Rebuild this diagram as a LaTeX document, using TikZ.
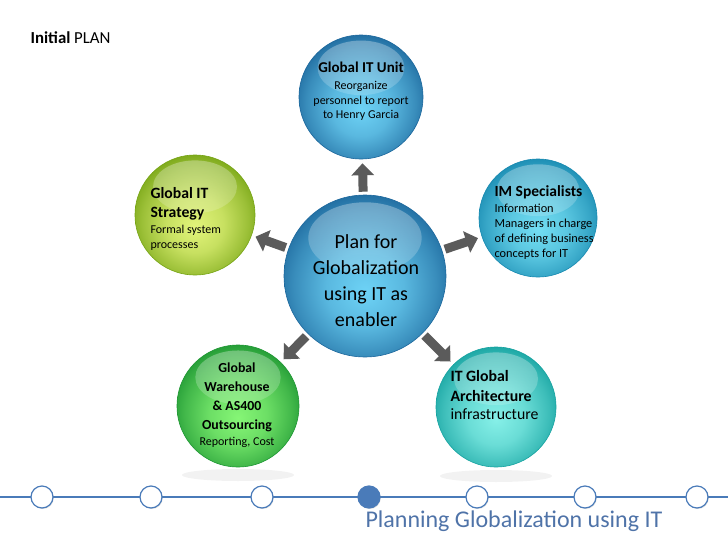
\documentclass[tikz,border=0pt]{standalone}
\usepackage{fontspec}
\setmainfont{Carlito}
\usetikzlibrary{arrows.meta,fadings,shadows}

\definecolor{blueIn}{HTML}{6ED3F6}
\definecolor{blueOut}{HTML}{1C679C}
\definecolor{limeIn}{HTML}{E2F47A}
\definecolor{limeOut}{HTML}{76A414}
\definecolor{cyanIn}{HTML}{72DDF2}
\definecolor{cyanOut}{HTML}{1789B0}
\definecolor{greenIn}{HTML}{86F676}
\definecolor{greenOut}{HTML}{1D9632}
\definecolor{tealIn}{HTML}{86F0E8}
\definecolor{tealOut}{HTML}{15A2A0}
\definecolor{lineblue}{HTML}{4A7BB9}
\definecolor{capblue}{HTML}{4F73A8}
\definecolor{arrowgray}{HTML}{5B5B5B}
\colorlet{sphIn}{white}
\colorlet{sphOut}{black}

\pgfdeclareradialshading[sphIn,sphOut]{sphereshade}{\pgfpoint{0bp}{-5bp}}{%
  color(0bp)=(sphIn); color(12bp)=(sphIn!75!sphOut);
  color(22bp)=(sphIn!35!sphOut); color(29bp)=(sphOut); color(50bp)=(sphOut)}

\tikzset{
  sphere/.style n args={3}{circle, inner sep=0pt, minimum size=#3*2pt,
    draw=#2, line width=0.6pt,
    /utils/exec={\colorlet{sphIn}{#1}\colorlet{sphOut}{#2}},
    shading=sphereshade,
    path picture={\fill[white, path fading=south, fill opacity=0.32]
      ([yshift=#3*0.47pt]path picture bounding box.center)
      ellipse [x radius=#3*0.7pt, y radius=#3*0.44pt];}},
  blockarrow/.style={draw=arrowgray, line width=9pt,
    -{Triangle[width=22pt,length=12pt]}, shorten <=3pt, shorten >=4pt},
  tdot/.style={circle, draw=lineblue, fill=white, line width=1.2pt,
    minimum size=22pt, inner sep=0pt,
    drop shadow={shadow xshift=0.8pt, shadow yshift=-1pt, opacity=0.25}},
}

\begin{document}
\begin{tikzpicture}[x=1pt,y=-1pt]
\useasboundingbox (0,0) rectangle (728,546);

\node[anchor=west, font=\fontsize{16.8}{20}\selectfont] (title) at (27,38) {\textbf{Initial} PLAN};

% faint reflections below the lower spheres
\fill[gray!10] (238,475) ellipse [x radius=56pt, y radius=6pt];
\fill[gray!10] (496,476) ellipse [x radius=56pt, y radius=6pt];

% spheres
\node[sphere={blueIn}{blueOut}{81}] (plan) at (365,276) {};
\node[sphere={blueIn}{blueOut}{62}] (unit) at (361,97) {};
\node[sphere={limeIn}{limeOut}{60}] (strat) at (195,215) {};
\node[sphere={cyanIn}{cyanOut}{59}] (spec) at (538,218) {};
\node[sphere={greenIn}{greenOut}{61}] (ware) at (238,406) {};
\node[sphere={tealIn}{tealOut}{60}] (arch) at (496,407) {};

% arrows out of the centre
\foreach \t in {unit,strat,spec,ware,arch}
  \draw[blockarrow] (plan) -- (\t);

% texts
\node[align=center, font=\fontsize{20}{26}\selectfont] (planTxt) at (366,281)
  {Plan for\\Globalization\\using IT as\\enabler};
\node[align=center, anchor=north, font=\fontsize{12}{14.5}\selectfont] (unitTxt) at (361,58)
  {{\fontsize{15}{18}\selectfont\bfseries Global IT Unit}\\[3pt]Reorganize\\personnel to report\\to Henry Garcia};
\node[align=left, anchor=north west, font=\fontsize{12}{15}\selectfont] (stratTxt) at (147,184)
  {{\fontsize{15.7}{19}\selectfont\bfseries Global IT}\\[3.5pt]{\fontsize{15.7}{19}\selectfont\bfseries Strategy}\\[1.5pt]Formal system\\processes};
\node[align=left, anchor=north west, font=\fontsize{12.3}{15.2}\selectfont] (specTxt) at (491,182)
  {{\fontsize{15.5}{17}\selectfont\bfseries IM Specialists}\\[0.5pt]Information\\Managers in charge\\of defining business\\concepts for IT};
\node[align=center, anchor=north, font=\fontsize{13.8}{19.2}\selectfont\bfseries] (wareTxt) at (237,359)
  {Global\\Warehouse\\\& AS400\\Outsourcing\\[-4pt]{\fontsize{12}{14}\selectfont\mdseries Reporting, Cost}};
\node[align=left, anchor=north west, font=\fontsize{15.8}{19.5}\selectfont] (archTxt) at (447,367)
  {\textbf{IT Global}\\\textbf{Architecture}\\[-1pt]infrastructure};

% timeline
\coordinate (lineL) at (0,497);
\coordinate (lineR) at (728,497);
\draw[lineblue, line width=2pt] (lineL) -- (lineR);
\foreach \x [count=\i] in {42,151,262,477,585,697}
  \node[tdot] (t\i) at (\x,497) {};
\node[tdot, fill=lineblue] (now) at (369,497) {};
\node[anchor=west, text=capblue, font=\fontsize{24}{28}\selectfont] (caption) at (362,521)
  {Planning Globalization using IT};
\end{tikzpicture}
\end{document}
